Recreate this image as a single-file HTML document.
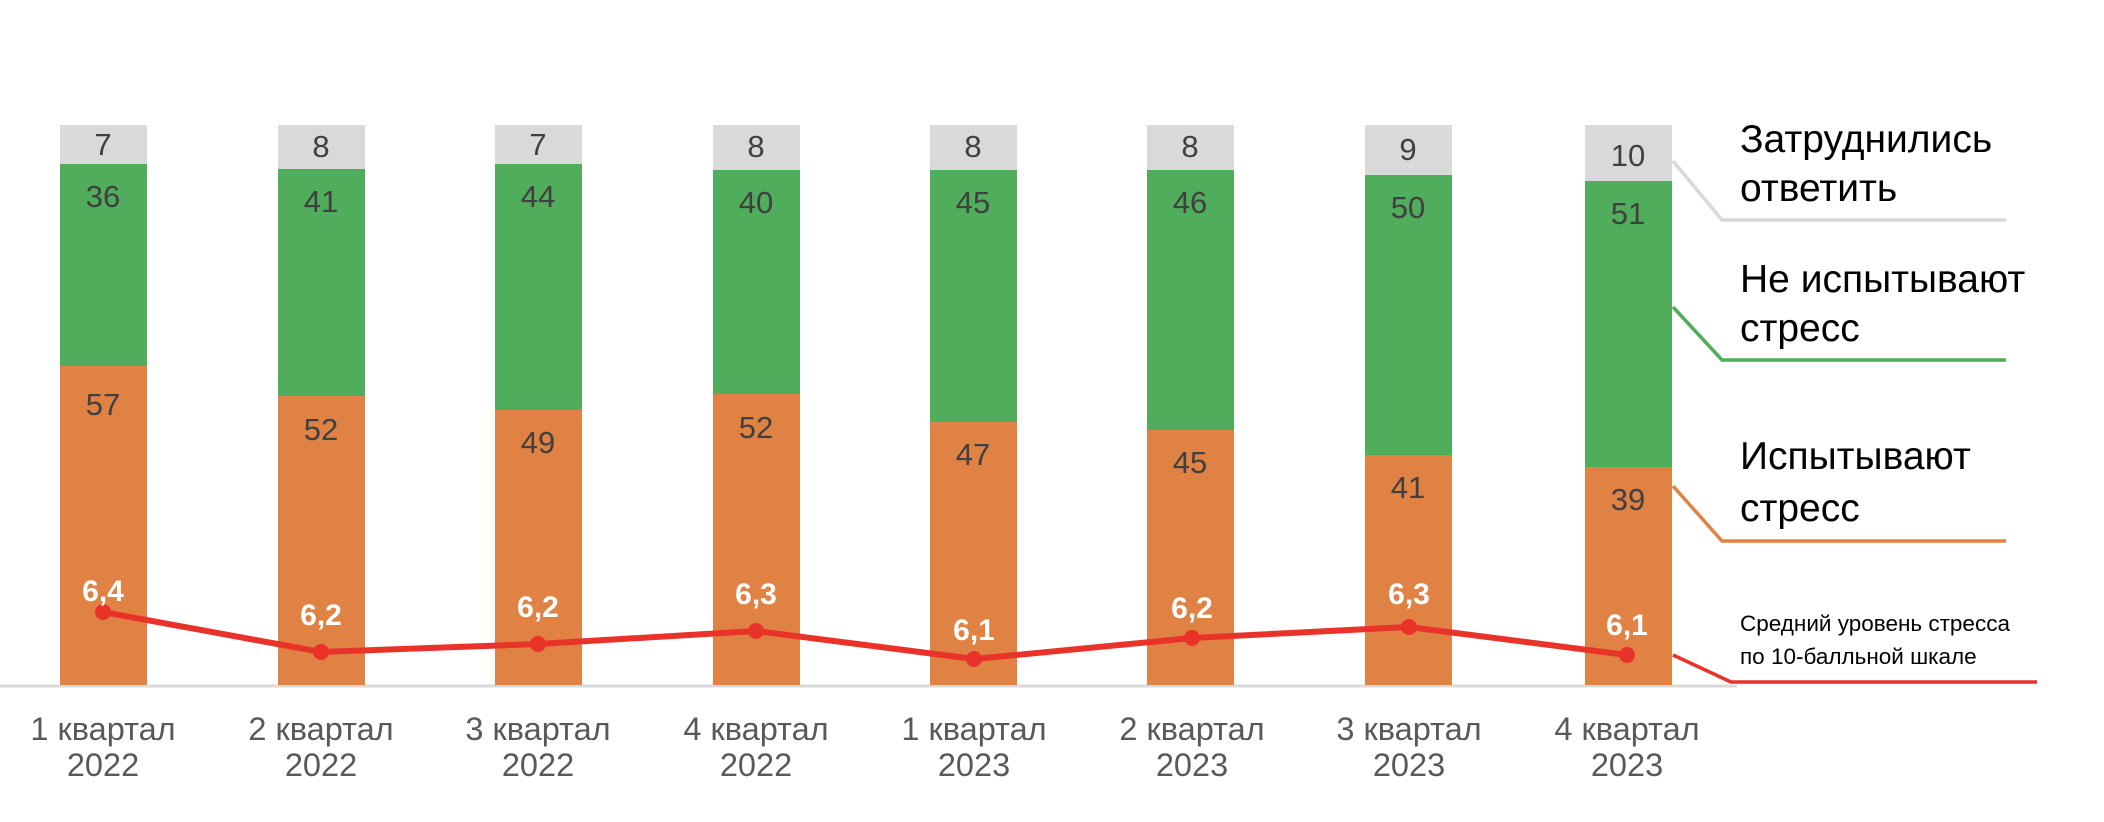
<!DOCTYPE html>
<html><head><meta charset="utf-8"><style>
html,body{margin:0;padding:0;background:#fff;}
svg{display:block;font-family:"Liberation Sans",sans-serif;}
</style></head><body>
<svg width="2104" height="822" viewBox="0 0 2104 822" xmlns="http://www.w3.org/2000/svg">
<line x1="0" y1="686" x2="1737" y2="686" stroke="#d9d9d9" stroke-width="3"/>
<g font-size="31" fill="#404040" text-anchor="middle">
<rect x="60" y="125" width="87" height="39" fill="#d9d9d9"/><rect x="60" y="164" width="87" height="202" fill="#4fad5b"/><rect x="60" y="366" width="87" height="319" fill="#e08243"/>
<text x="103" y="155">7</text><text x="103" y="207">36</text><text x="103" y="415">57</text>
<rect x="278" y="125" width="87" height="44" fill="#d9d9d9"/><rect x="278" y="169" width="87" height="227" fill="#4fad5b"/><rect x="278" y="396" width="87" height="289" fill="#e08243"/>
<text x="321" y="157">8</text><text x="321" y="212">41</text><text x="321" y="440">52</text>
<rect x="495" y="125" width="87" height="39" fill="#d9d9d9"/><rect x="495" y="164" width="87" height="246" fill="#4fad5b"/><rect x="495" y="410" width="87" height="275" fill="#e08243"/>
<text x="538" y="155">7</text><text x="538" y="207">44</text><text x="538" y="453">49</text>
<rect x="713" y="125" width="87" height="45" fill="#d9d9d9"/><rect x="713" y="170" width="87" height="224" fill="#4fad5b"/><rect x="713" y="394" width="87" height="291" fill="#e08243"/>
<text x="756" y="157">8</text><text x="756" y="213">40</text><text x="756" y="438">52</text>
<rect x="930" y="125" width="87" height="45" fill="#d9d9d9"/><rect x="930" y="170" width="87" height="252" fill="#4fad5b"/><rect x="930" y="422" width="87" height="263" fill="#e08243"/>
<text x="973" y="157">8</text><text x="973" y="213">45</text><text x="973" y="465">47</text>
<rect x="1147" y="125" width="87" height="45" fill="#d9d9d9"/><rect x="1147" y="170" width="87" height="260" fill="#4fad5b"/><rect x="1147" y="430" width="87" height="255" fill="#e08243"/>
<text x="1190" y="157">8</text><text x="1190" y="213">46</text><text x="1190" y="473">45</text>
<rect x="1365" y="125" width="87" height="50" fill="#d9d9d9"/><rect x="1365" y="175" width="87" height="280" fill="#4fad5b"/><rect x="1365" y="455" width="87" height="230" fill="#e08243"/>
<text x="1408" y="160">9</text><text x="1408" y="218">50</text><text x="1408" y="498">41</text>
<rect x="1585" y="125" width="87" height="56" fill="#d9d9d9"/><rect x="1585" y="181" width="87" height="286" fill="#4fad5b"/><rect x="1585" y="467" width="87" height="218" fill="#e08243"/>
<text x="1628" y="166">10</text><text x="1628" y="224">51</text><text x="1628" y="510">39</text>
</g>
<polyline points="103,612 321,652 538,644 756,631 974,659 1192,638 1409,627 1627,655" fill="none" stroke="#e8322a" stroke-width="6" stroke-linejoin="round"/>
<g fill="#e8322a">
<circle cx="103" cy="612" r="8"/><circle cx="321" cy="652" r="8"/><circle cx="538" cy="644" r="8"/><circle cx="756" cy="631" r="8"/><circle cx="974" cy="659" r="8"/><circle cx="1192" cy="638" r="8"/><circle cx="1409" cy="627" r="8"/><circle cx="1627" cy="655" r="8"/>
</g>
<g font-size="30" font-weight="bold" fill="#fff" text-anchor="middle">
<text x="103" y="601">6,4</text><text x="321" y="625">6,2</text><text x="538" y="617">6,2</text><text x="756" y="604">6,3</text><text x="974" y="640">6,1</text><text x="1192" y="618">6,2</text><text x="1409" y="604">6,3</text><text x="1627" y="635">6,1</text>
</g>
<g font-size="32.5" fill="#595959" text-anchor="middle">
<text x="103" y="740">1 квартал</text><text x="103" y="776">2022</text>
<text x="321" y="740">2 квартал</text><text x="321" y="776">2022</text>
<text x="538" y="740">3 квартал</text><text x="538" y="776">2022</text>
<text x="756" y="740">4 квартал</text><text x="756" y="776">2022</text>
<text x="974" y="740">1 квартал</text><text x="974" y="776">2023</text>
<text x="1192" y="740">2 квартал</text><text x="1192" y="776">2023</text>
<text x="1409" y="740">3 квартал</text><text x="1409" y="776">2023</text>
<text x="1627" y="740">4 квартал</text><text x="1627" y="776">2023</text>
</g>
<polyline points="1673,161 1722,220 2006,220" fill="none" stroke="#d9d9d9" stroke-width="3.5"/>
<polyline points="1673,307 1722,360 2006,360" fill="none" stroke="#4fad5b" stroke-width="3.5"/>
<polyline points="1673,486 1722,541 2006,541" fill="none" stroke="#e08243" stroke-width="3.5"/>
<polyline points="1673,655 1731,682 2037,682" fill="none" stroke="#e8322a" stroke-width="3.5"/>
<g font-size="39" fill="#000">
<text x="1740" y="152">Затруднились</text><text x="1740" y="201">ответить</text>
<text x="1740" y="292">Не испытывают</text><text x="1740" y="341">стресс</text>
<text x="1740" y="469">Испытывают</text><text x="1740" y="521">стресс</text>
</g>
<g font-size="22.5" fill="#000">
<text x="1740" y="631">Средний уровень стресса</text><text x="1740" y="664">по 10-балльной шкале</text>
</g>
</svg>
</body></html>
